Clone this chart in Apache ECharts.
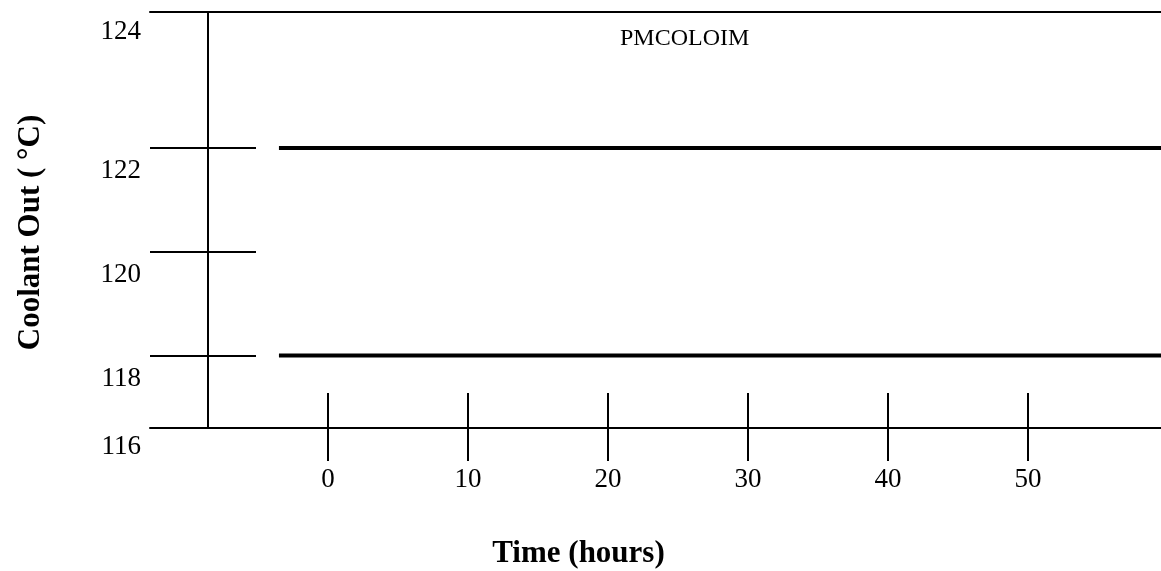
<!DOCTYPE html>
<html>
<head>
<meta charset="utf-8">
<script src="https://cdn.jsdelivr.net/npm/echarts@6/dist/echarts.min.js"></script>
<style>html,body{margin:0;padding:0;background:#fff;}#main{width:1161px;height:571px;}</style>
</head>
<body>
<div id="main"></div>
<script>
// ---- data ----
const yTicks = [116, 118, 120, 122, 124];
const xTicks = [0, 10, 20, 30, 40, 50];
const time = [-3.5, 59.5];
const upperLimit = [122, 122];
const lowerLimit = [118, 118];
const chartTitle = 'PMCOLOIM';
const xName = 'Time (hours)';
const yName = 'Coolant Out ( °C)';

// ---- derived ----
const innerTicks = yTicks.slice(1, -1);
const edgeTicks = [yTicks[0], yTicks[yTicks.length - 1]];

const serif = '"Liberation Serif", "Times New Roman", serif';
const black = '#000';
const axisLs = { color: black, width: 2 };
const xMin = -12.71, xMax = 59.5;
const yMin = 116.6, yMax = 124.62;

const chart = echarts.init(document.getElementById('main'), null, { renderer: 'canvas' });
const option = {
  animation: false,
  backgroundColor: '#fff',
  title: {
    text: chartTitle, left: 620, top: 27, padding: 0,
    textStyle: { fontFamily: serif, fontSize: 24, fontWeight: 'normal', color: black }
  },
  grid: [
    { left: 150, right: 0, top: 12, bottom: 143, outerBoundsMode: 'none', containLabel: false },
    { left: 150, right: 0, top: 45, bottom: 111, outerBoundsMode: 'none', containLabel: false }
  ],
  xAxis: [
    {
      type: 'value', gridIndex: 0, position: 'bottom', min: xMin, max: xMax,
      axisLine: { show: true, onZero: false, lineStyle: axisLs },
      axisTick: { show: true, inside: true, length: 35, customValues: xTicks, lineStyle: axisLs },
      axisLabel: { customValues: xTicks, margin: 38, fontSize: 27, fontFamily: serif, color: black, verticalAlign: 'top' },
      splitLine: { show: false },
      name: xName, nameLocation: 'middle', nameGap: 110,
      nameTextStyle: { fontFamily: serif, fontSize: 31, fontWeight: 'bold', color: black, padding: [0, 154, 0, 0] }
    },
    {
      type: 'value', gridIndex: 0, position: 'bottom', min: xMin, max: xMax,
      axisLine: { show: false, onZero: false },
      axisTick: { show: true, inside: false, length: 33, customValues: xTicks, lineStyle: axisLs },
      axisLabel: { show: false }, splitLine: { show: false }
    },
    {
      type: 'value', gridIndex: 0, position: 'top', min: xMin, max: xMax,
      axisLine: { show: true, onZero: false, lineStyle: axisLs },
      axisTick: { show: false }, axisLabel: { show: false }, splitLine: { show: false }
    },
    {
      type: 'value', gridIndex: 1, min: 0, max: 1, show: false,
      axisLine: { onZero: false }
    }
  ],
  yAxis: [
    {
      type: 'value', gridIndex: 0, position: 'left', offset: -58, min: yMin, max: yMax,
      axisLine: { show: true, onZero: false, lineStyle: axisLs },
      axisTick: { show: true, inside: false, length: 58, customValues: innerTicks, lineStyle: axisLs },
      axisLabel: { show: false }, splitLine: { show: false },
      name: yName, nameLocation: 'middle', nameRotate: 90, nameGap: 162,
      nameTextStyle: { fontFamily: serif, fontSize: 31, fontWeight: 'bold', color: black, padding: [0, 25, 0, 0] }
    },
    {
      type: 'value', gridIndex: 0, position: 'left', offset: -58, min: yMin, max: yMax,
      axisLine: { show: false, onZero: false },
      axisTick: { show: true, inside: true, length: 48, customValues: innerTicks, lineStyle: axisLs },
      axisLabel: { show: false }, splitLine: { show: false }
    },
    {
      type: 'value', gridIndex: 1, position: 'left', min: yTicks[0], max: yTicks[yTicks.length - 1],
      axisLine: { show: false, onZero: false }, axisTick: { show: false }, splitLine: { show: false },
      axisLabel: { customValues: innerTicks, verticalAlign: 'top', padding: [9, 0, 0, 0], margin: 9,
        fontSize: 27, fontFamily: serif, color: black }
    },
    {
      type: 'value', gridIndex: 1, position: 'left', min: yTicks[0], max: yTicks[yTicks.length - 1],
      axisLine: { show: false, onZero: false }, axisTick: { show: false }, splitLine: { show: false },
      axisLabel: { customValues: edgeTicks, verticalAlign: 'bottom', margin: 9,
        fontSize: 27, fontFamily: serif, color: black }
    }
  ],
  series: [
    {
      type: 'line', xAxisIndex: 0, yAxisIndex: 0, showSymbol: false, silent: true,
      data: time.map((t, i) => [t, upperLimit[i]]),
      lineStyle: { color: black, width: 4 }
    },
    {
      type: 'line', xAxisIndex: 0, yAxisIndex: 0, showSymbol: false, silent: true,
      data: time.map((t, i) => [t, lowerLimit[i]]),
      lineStyle: { color: black, width: 4 }
    }
  ]
};
chart.setOption(option);
</script>
</body>
</html>
